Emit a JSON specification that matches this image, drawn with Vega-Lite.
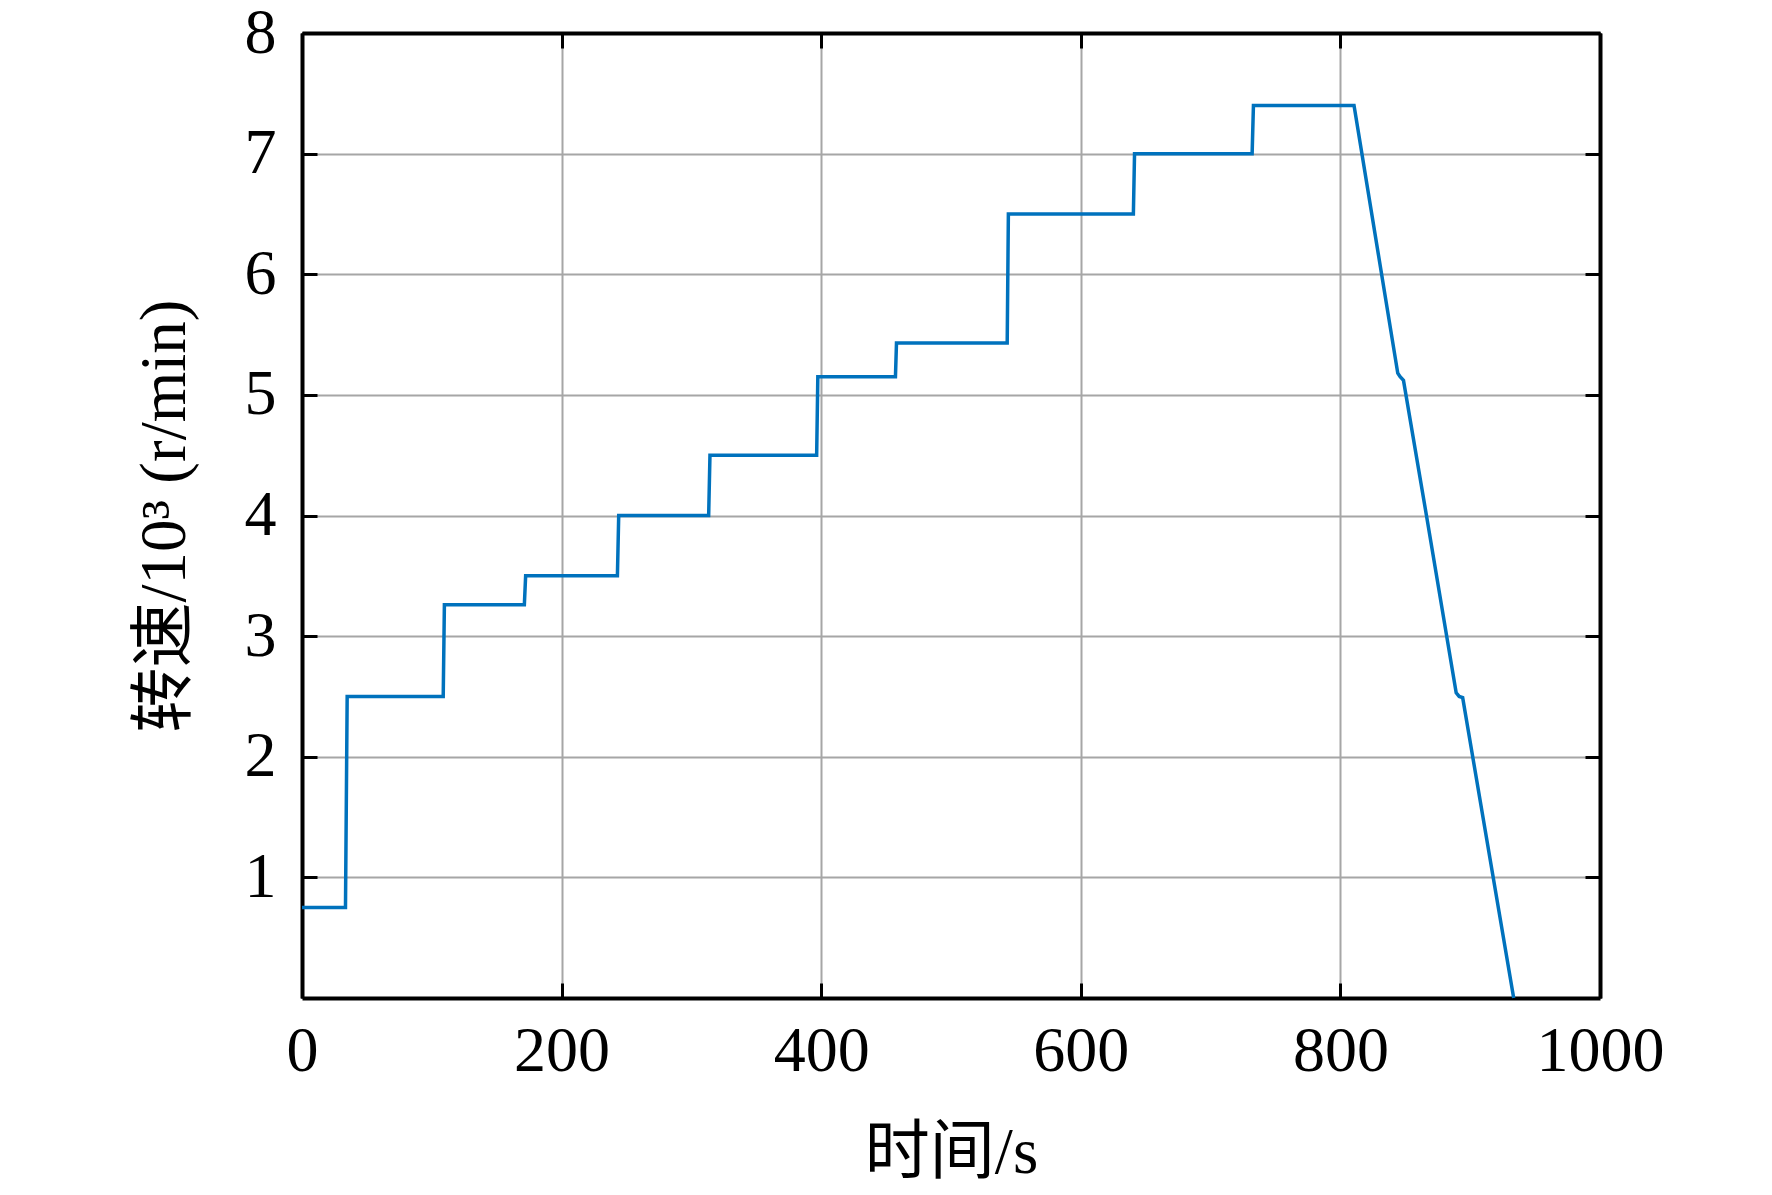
{
  "$schema": "https://vega.github.io/schema/vega-lite/v6.json",
  "autosize": "none",
  "padding": {"left": 302, "top": 33, "right": 172, "bottom": 197},
  "width": 1298,
  "height": 965,
  "background": "white",
  "data": {
    "values": [
      {"t": 0, "speed": 0.75},
      {"t": 33.5, "speed": 0.75},
      {"t": 34.8, "speed": 2.5},
      {"t": 108.8, "speed": 2.5},
      {"t": 109.7, "speed": 3.26},
      {"t": 171.3, "speed": 3.26},
      {"t": 172.3, "speed": 3.5},
      {"t": 243, "speed": 3.5},
      {"t": 244, "speed": 4.0},
      {"t": 313.3, "speed": 4.0},
      {"t": 314.3, "speed": 4.5},
      {"t": 396.5, "speed": 4.5},
      {"t": 397.4, "speed": 5.15},
      {"t": 457.2, "speed": 5.15},
      {"t": 458, "speed": 5.43},
      {"t": 543.3, "speed": 5.43},
      {"t": 544.2, "speed": 6.5},
      {"t": 640.5, "speed": 6.5},
      {"t": 641.4, "speed": 7.0},
      {"t": 732, "speed": 7.0},
      {"t": 733, "speed": 7.4},
      {"t": 810.5, "speed": 7.4},
      {"t": 844.2, "speed": 5.18},
      {"t": 846, "speed": 5.15},
      {"t": 848.6, "speed": 5.12},
      {"t": 866.3, "speed": 4.0},
      {"t": 889.2, "speed": 2.53},
      {"t": 891.5, "speed": 2.5},
      {"t": 894.2, "speed": 2.49},
      {"t": 933.5, "speed": 0}
    ]
  },
  "layer": [
    {
      "mark": {"type": "line", "opacity": 0},
      "encoding": {
        "x": {
          "field": "t",
          "type": "quantitative",
          "scale": {"domain": [0, 1000], "nice": false},
          "axis": {"orient": "top", "labels": false, "grid": false, "title": null, "values": [0, 200, 400, 600, 800, 1000]}
        },
        "y": {
          "field": "speed",
          "type": "quantitative",
          "scale": {"domain": [0, 8], "nice": false},
          "axis": {"orient": "right", "labels": false, "grid": false, "title": null, "values": [1, 2, 3, 4, 5, 6, 7, 8]}
        }
      }
    },
    {
      "mark": {"type": "line", "color": "#0072BD", "strokeWidth": 3.5},
      "encoding": {
        "x": {
          "field": "t",
          "type": "quantitative",
          "scale": {"domain": [0, 1000], "nice": false},
          "axis": {
            "orient": "bottom",
            "title": "时间/s",
            "grid": true,
            "format": "d",
            "values": [0, 200, 400, 600, 800, 1000],
            "labelPadding": 36,
            "titlePadding": 38
          }
        },
        "y": {
          "field": "speed",
          "type": "quantitative",
          "scale": {"domain": [0, 8], "nice": false},
          "axis": {
            "orient": "left",
            "title": "转速/10³ (r/min)",
            "grid": true,
            "format": "d",
            "values": [1, 2, 3, 4, 5, 6, 7, 8],
            "labelPadding": 41,
            "titlePadding": 46
          }
        }
      }
    }
  ],
  "resolve": {"axis": {"x": "independent", "y": "independent"}},
  "config": {
    "view": {"stroke": null},
    "axis": {
      "domainColor": "black",
      "domainWidth": 4,
      "tickColor": "black",
      "tickWidth": 3,
      "tickSize": -15,
      "gridColor": "#a6a6a6",
      "gridWidth": 2,
      "gridOpacity": 1,
      "labelFont": "Liberation Serif",
      "labelFontSize": 64,
      "labelColor": "black",
      "labelFlush": false,
      "labelOverlap": false,
      "labelBound": false,
      "titleFont": "Liberation Serif, Noto Sans CJK SC",
      "titleFontSize": 65,
      "titleFontWeight": "normal",
      "titleColor": "black"
    }
  }
}
